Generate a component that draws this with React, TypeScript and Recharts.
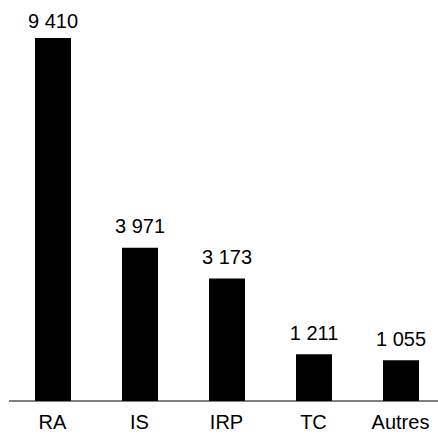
import { BarChart, Bar, XAxis, YAxis, LabelList } from "recharts";

const categories = ["RA", "IS", "IRP", "TC", "Autres"];
const values = [9410, 3971, 3173, 1211, 1055];

const data = categories.map((name, i) => ({ name, value: values[i] }));

// espace insécable pour que le libellé ne passe pas à la ligne
const fmt = (v: number) => String(v).replace(/\B(?=(\d{3})+(?!\d))/g, "\u00A0");

function TopLabel(props: any) {
  const { x, y, width, value } = props;
  // le libellé du plus grand bâton reste dans le cadre
  const base = Math.max(Number(y) - 14.5, 28);
  return (
    <text x={Number(x) + Number(width) / 2} y={base} textAnchor="middle" fill="#000" fontSize={20}>
      {fmt(Number(value))}
    </text>
  );
}

export default function App() {
  return (
    <div style={{ position: "absolute", left: 0, top: 0, width: 438, height: 436, overflow: "hidden", fontFamily: "'Liberation Sans', Arial, sans-serif" }}>
      <BarChart width={446} height={436} data={data} margin={{ top: 38, right: 2, bottom: 0, left: 9 }}>
        <XAxis dataKey="name" height={35} tickLine={false} tickMargin={8} axisLine={{ stroke: "#000" }}
          tick={{ fill: "#000", fontSize: 20 }} interval={0} />
        <YAxis hide domain={[0, "dataMax"]} />
        <Bar dataKey="value" fill="#000" barSize={36} isAnimationActive={false}>
          <LabelList dataKey="value" content={<TopLabel />} />
        </Bar>
      </BarChart>
    </div>
  );
}
